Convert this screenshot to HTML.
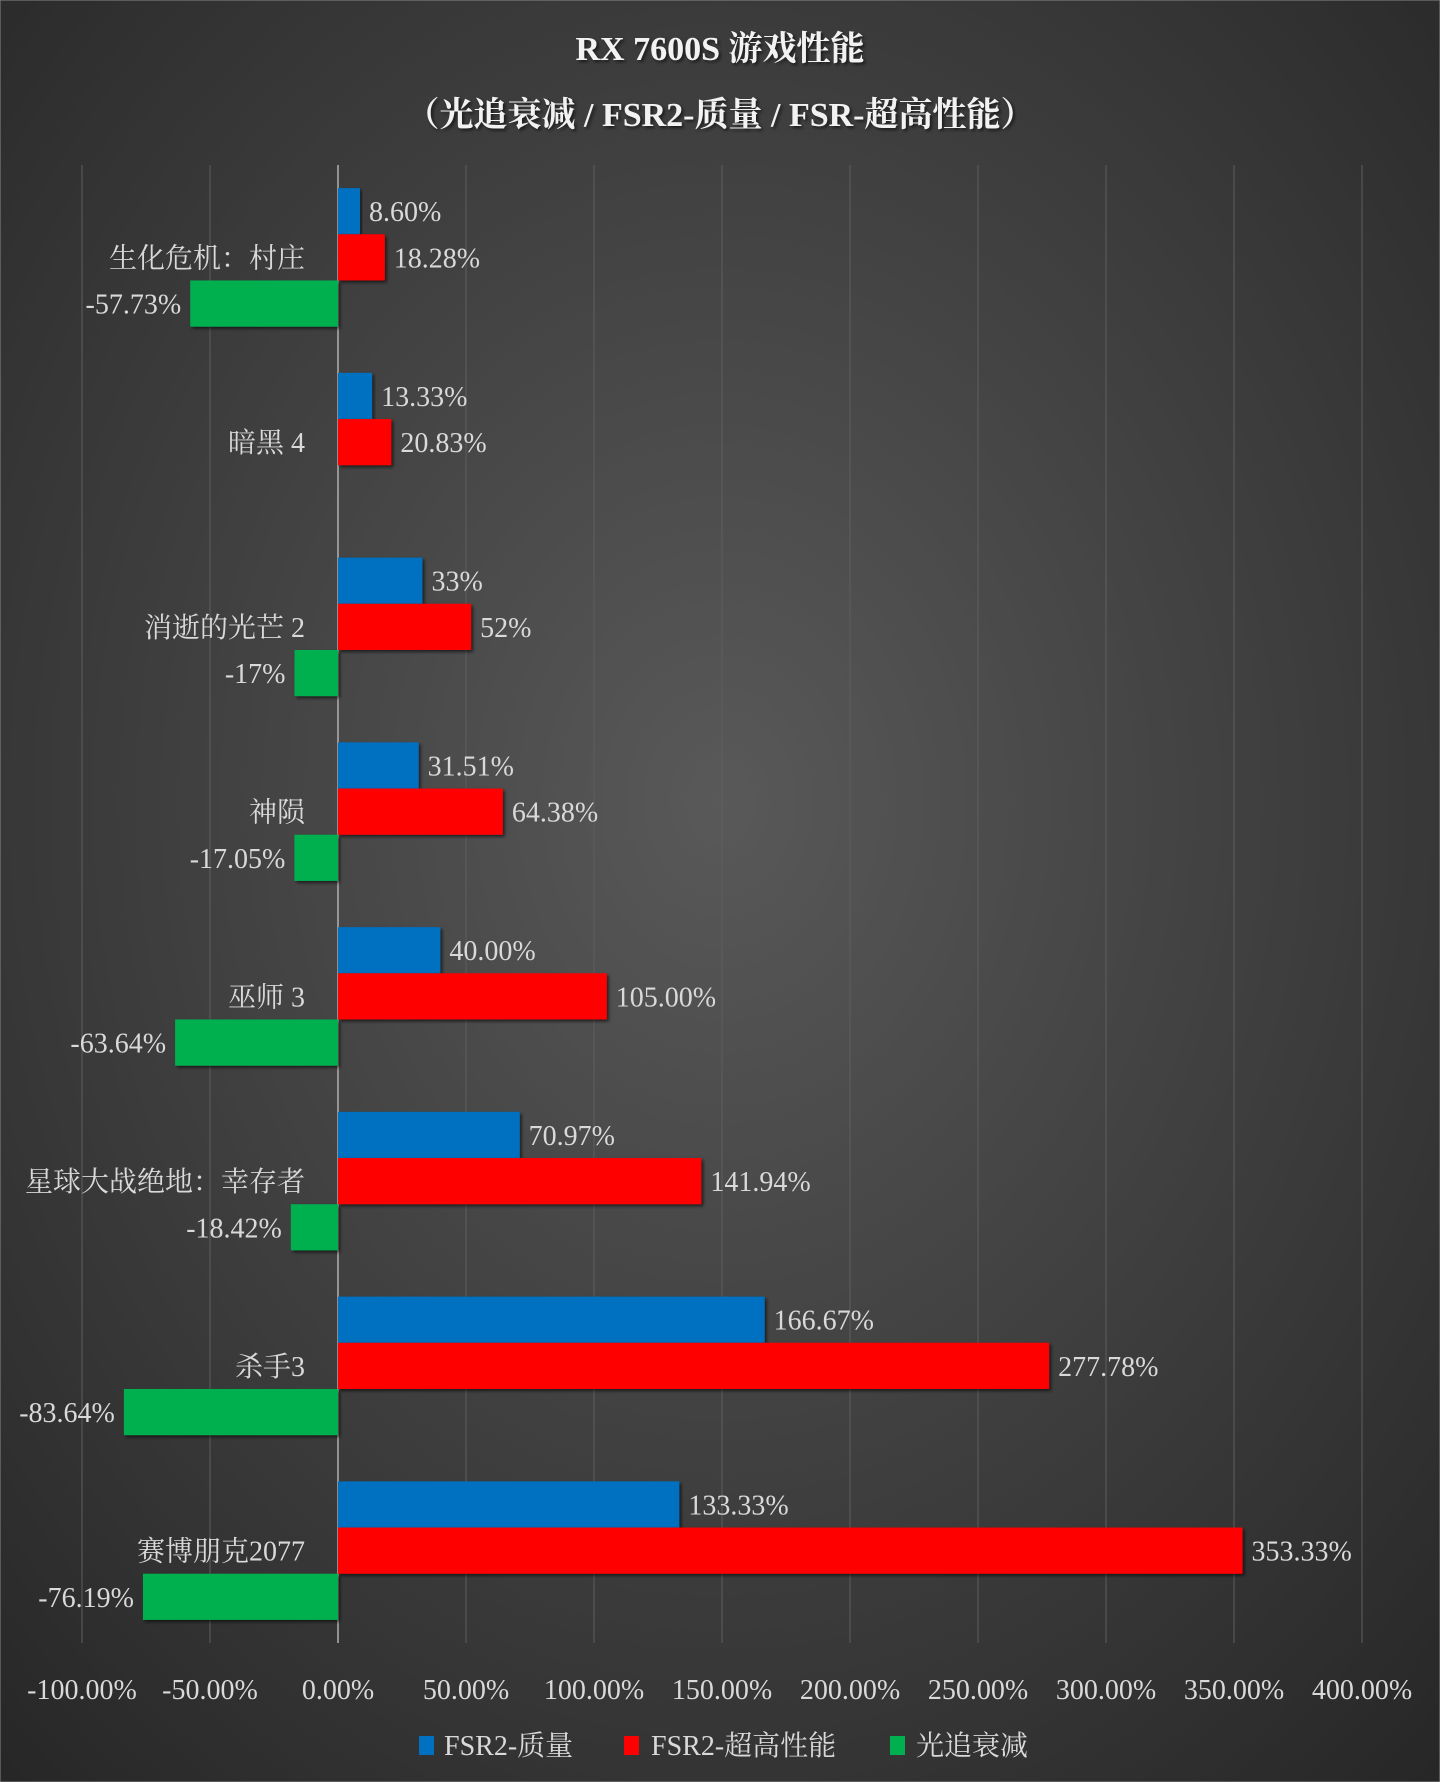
<!DOCTYPE html>
<html><head><meta charset="utf-8"><style>
html,body{margin:0;padding:0;background:#2b2b2b}
svg{display:block}
text{font-family:"Liberation Serif","Noto Serif CJK SC",serif}
</style></head><body>
<svg id="chart" width="1440" height="1782" viewBox="0 0 1440 1782" xmlns="http://www.w3.org/2000/svg">
<defs>
<radialGradient id="bg" cx="50%" cy="45%" r="75%">
<stop offset="0" stop-color="#595959"/><stop offset="1" stop-color="#262626"/>
</radialGradient>
<filter id="sh"><feDropShadow dx="2" dy="2" stdDeviation="1.5" flood-color="#000" flood-opacity="0.6"/></filter>
</defs>
<rect x="0" y="0" width="1440" height="1782" fill="url(#bg)" stroke="#888" stroke-width="1"/>
<text x="720" y="60" text-anchor="middle" font-size="34" font-weight="bold" fill="#f2f2f2" filter="url(#sh)">RX 7600S 游戏性能</text>
<text x="720" y="126" text-anchor="middle" font-size="34" font-weight="bold" fill="#f2f2f2" filter="url(#sh)">（光追衰减 / FSR2-质量 / FSR-超高性能）</text>
<g id="grid"></g>
<g id="bars"></g>
<g id="labels"></g>
<g id="legend">
<rect x="419" y="1736" width="15" height="19" fill="#0070c0"/>
<text x="444" y="1755" font-size="28" fill="#d9d9d9">FSR2-质量</text>
<rect x="624" y="1736" width="15" height="19" fill="#ff0000"/>
<text x="651" y="1755" font-size="28" fill="#d9d9d9">FSR2-超高性能</text>
<rect x="890" y="1736" width="15" height="19" fill="#00b050"/>
<text x="916" y="1755" font-size="28" fill="#d9d9d9">光追衰减</text>
</g>
</svg>
<script>
const categories = ["生化危机：村庄","暗黑 4","消逝的光芒 2","神陨","巫师 3","星球大战绝地：幸存者","杀手3","赛博朋克2077"];
const fsrQuality = [8.60,13.33,33,31.51,40.00,70.97,166.67,133.33];
const fsrUltra = [18.28,20.83,52,64.38,105.00,141.94,277.78,353.33];
const rtLoss = [-57.73,null,-17,-17.05,-63.64,-18.42,-83.64,-76.19];
const qualityLabels = ["8.60%","13.33%","33%","31.51%","40.00%","70.97%","166.67%","133.33%"];
const ultraLabels = ["18.28%","20.83%","52%","64.38%","105.00%","141.94%","277.78%","353.33%"];
const rtLabels = ["-57.73%","","-17%","-17.05%","-63.64%","-18.42%","-83.64%","-76.19%"];
const ticks = [-100,-50,0,50,100,150,200,250,300,350,400];
const tickLabels = ["-100.00%","-50.00%","0.00%","50.00%","100.00%","150.00%","200.00%","250.00%","300.00%","350.00%","400.00%"];

{
const NS="http://www.w3.org/2000/svg";
const x0=82,x1=1362,vmin=-100,vmax=400,plotTop=165,plotBottom=1643;
function xs(v){return x0+(v-vmin)/(vmax-vmin)*(x1-x0);}
const band=(plotBottom-plotTop)/categories.length;
function bandY(i){return plotTop+i*band;}
const barH=band*0.25;
function mk(tag,attrs,parent){const e=document.createElementNS(NS,tag);for(const k in attrs)e.setAttribute(k,attrs[k]);parent.appendChild(e);return e;}
const grid=document.getElementById('grid'),bars=document.getElementById('bars'),labels=document.getElementById('labels');
ticks.forEach((t,i)=>{
  const l=mk('line',{x1:xs(t),x2:xs(t),y1:plotTop,y2:plotBottom,stroke:t===0?'#b0b0b0':'#5e5e5e','stroke-width':t===0?1.5:1},grid);
  
  
  const tx=mk('text',{x:xs(t),y:1699,'text-anchor':'middle','font-size':28,fill:'#d9d9d9'},labels);
  tx.textContent=tickLabels[i];
  
  
});
const series=[[fsrQuality,qualityLabels,'#0070c0','bar-fsr2-quality'],[fsrUltra,ultraLabels,'#ff0000','bar-fsr2-ultra'],[rtLoss,rtLabels,'#00b050','bar-rt-loss']];
categories.forEach((c,i)=>{
  const g0=bandY(i)+band*0.125;
  const ct=mk('text',{x:305,y:bandY(i)+band/2+10,'text-anchor':'end','font-size':28,fill:'#d9d9d9'},labels);
  ct.textContent=c;
  
  
  series.forEach((s,j)=>{
    const v=s[0][i];
    if(v===null||v===undefined)return;
    const y=g0+j*barH;
    const xa=Math.min(xs(0),xs(v)),w=Math.abs(xs(v)-xs(0));
    const r=mk('rect',{x:xa,y:y,width:w,height:barH,fill:s[2],filter:'url(#sh)'},bars);
    
    
    const t=mk('text',{x:v>=0?xs(v)+9:xs(v)-9,y:y+barH/2+10,'text-anchor':v>=0?'start':'end','font-size':28,fill:'#d9d9d9'},labels);
    t.textContent=s[1][i];
    
    
  });
});
}
</script>
</body></html>
